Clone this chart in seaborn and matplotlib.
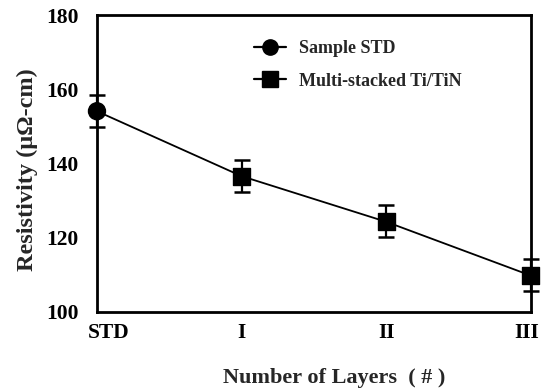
import matplotlib
matplotlib.use("Agg")
import matplotlib.pyplot as plt
import matplotlib.transforms as mtransforms
import seaborn as sns
import pandas as pd
from matplotlib.lines import Line2D

categories = ["STD", "I", "II", "III"]
resistivity = [154.1, 136.6, 124.3, 109.8]
err_low = [4.3, 4.3, 4.2, 4.2]
err_high = [4.5, 4.4, 4.6, 4.4]
groups = ["Sample STD", "Multi-stacked Ti/TiN", "Multi-stacked Ti/TiN", "Multi-stacked Ti/TiN"]
yticks = [100, 120, 140, 160, 180]

sns.set_theme(style="white")
plt.rcParams["font.family"] = ["Liberation Serif", "DejaVu Serif"]
plt.rcParams["font.weight"] = "bold"

df = pd.DataFrame({"pos": list(range(len(categories))), "res": resistivity, "grp": groups})

fig = plt.figure(figsize=(5.43, 3.88), dpi=100)
ax = fig.add_axes([0.1786, 0.196, 0.799, 0.765])

sns.lineplot(data=df, x="pos", y="res", color="black", linewidth=1.3, ax=ax, legend=False, zorder=2)
ax.errorbar(df["pos"], df["res"], yerr=[err_low, err_high], fmt="none", ecolor="black",
            elinewidth=1.6, capsize=6, capthick=1.8, zorder=3, clip_on=False)
sns.scatterplot(data=df, x="pos", y="res", style="grp",
                markers={"Sample STD": "o", "Multi-stacked Ti/TiN": "s"},
                color="black", s=150, edgecolor="black", ax=ax, legend=False, zorder=4, clip_on=False)

ax.set_xlim(0, 3)
ax.set_ylim(100, 180)
ax.set_yticks(yticks)
ax.set_yticklabels([str(t) for t in yticks], fontsize=15.5, fontweight="bold")
ax.set_xticks(range(len(categories)))
ax.set_xticklabels(categories, fontsize=15.5, fontweight="bold")
ax.tick_params(axis="both", direction="in", length=6, width=2, colors="black")
ax.tick_params(axis="x", pad=8)
ax.tick_params(axis="y", pad=13)
for s in ax.spines.values():
    s.set_linewidth(2)
    s.set_color("black")

# small horizontal nudges of the end tick labels, as in the reference
xl = ax.get_xticklabels()
xl[0].set_transform(xl[0].get_transform() + mtransforms.ScaledTranslation(12 / 100, 0, fig.dpi_scale_trans))
xl[-1].set_transform(xl[-1].get_transform() + mtransforms.ScaledTranslation(-4 / 100, 0, fig.dpi_scale_trans))

ax.set_xlabel("Number of Layers  ( # )", fontsize=16, fontweight="bold")
ax.xaxis.set_label_coords(0.547, -0.19)
ax.set_ylabel("Resistivity (μΩ-cm)", fontsize=17.5, fontweight="bold")
ax.yaxis.set_label_coords(-0.137, 0.48)

handles = [
    Line2D([], [], color="black", marker="o", markersize=11, linewidth=1.6),
    Line2D([], [], color="black", marker="s", markersize=11, linewidth=1.6),
]
ax.legend(handles, ["Sample STD", "Multi-stacked Ti/TiN"], loc="upper left",
          bbox_to_anchor=(0.324, 0.97), frameon=False, handlelength=1.8,
          prop={"size": 13, "weight": "bold"}, labelspacing=0.85, handletextpad=0.7)

fig.savefig("out.png", dpi=100)
